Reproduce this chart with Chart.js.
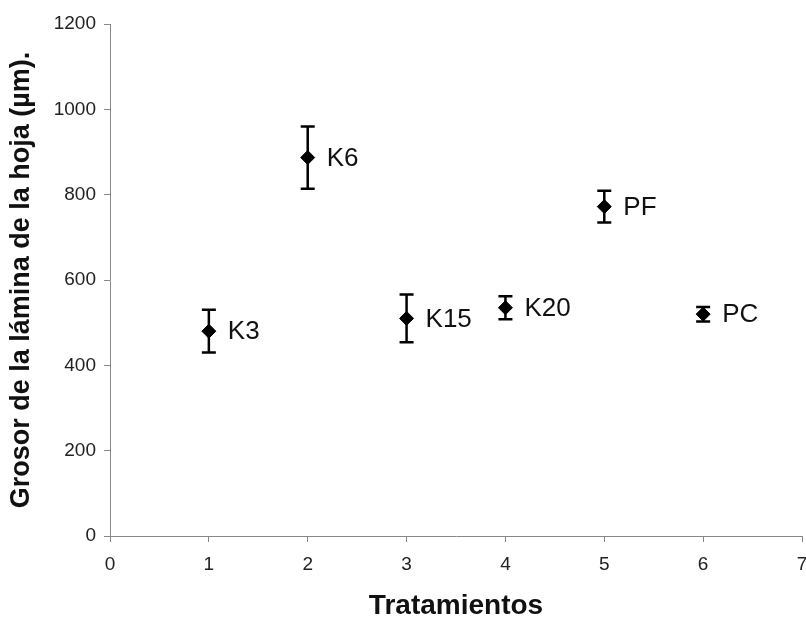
<!DOCTYPE html>
<html>
<head>
<meta charset="utf-8">
<script src="https://cdn.jsdelivr.net/npm/chart.js@4.4.1/dist/chart.umd.min.js"></script>
<style>
  html, body { margin: 0; padding: 0; background: #fff; overflow: hidden; }
  #wrap { width: 806px; height: 620px; overflow: hidden; }
</style>
</head>
<body>
<div id="wrap"><canvas id="grosorChart" width="810" height="620"></canvas></div>
<script>
// tratamientos y grosor medio de la lámina (µm) con su error
const tratamientos = ['K3', 'K6', 'K15', 'K20', 'PF', 'PC'];
const posX = [1, 2, 3, 4, 5, 6];
const grosor = [480, 887, 510, 535, 772, 520];
const error = [50, 73, 56, 27, 37, 17];

const xTicks = [0, 1, 2, 3, 4, 5, 6, 7];
const yTicks = [0, 200, 400, 600, 800, 1000, 1200];

const FONT = "'Liberation Sans', Arial, sans-serif";

const puntos = posX.map((x, i) => ({ x: x, y: grosor[i], yMin: grosor[i] - error[i], yMax: grosor[i] + error[i] }));

// barras de error y etiquetas de cada tratamiento
const barrasError = {
  id: 'barrasError',
  beforeDatasetsDraw(chart) {
    const ctx = chart.ctx;
    const xs = chart.scales.x, ys = chart.scales.y;
    ctx.save();
    ctx.strokeStyle = '#000';
    ctx.lineWidth = 2.5;
    puntos.forEach(p => {
      const px = xs.getPixelForValue(p.x);
      const top = ys.getPixelForValue(p.yMax);
      const bot = ys.getPixelForValue(p.yMin);
      ctx.beginPath();
      ctx.moveTo(px, top); ctx.lineTo(px, bot);
      ctx.moveTo(px - 7, top); ctx.lineTo(px + 7, top);
      ctx.moveTo(px - 7, bot); ctx.lineTo(px + 7, bot);
      ctx.stroke();
    });
    ctx.restore();
  },
  afterDatasetsDraw(chart) {
    const ctx = chart.ctx;
    const meta = chart.getDatasetMeta(0);
    ctx.save();
    ctx.fillStyle = '#111';
    ctx.font = '26px ' + FONT;
    ctx.textBaseline = 'middle';
    ctx.textAlign = 'left';
    meta.data.forEach((pt, i) => {
      ctx.fillText(tratamientos[i], pt.x + 19, pt.y + 1);
    });
    ctx.restore();
  }
};

const sinPadding = s => { s.paddingLeft = 0; s.paddingRight = 0; s.paddingTop = 0; s.paddingBottom = 0; };

new Chart(document.getElementById('grosorChart'), {
  type: 'scatter',
  data: {
    datasets: [{
      data: puntos,
      pointStyle: 'rectRot',
      pointRadius: 7,
      pointHoverRadius: 7,
      backgroundColor: '#000',
      borderColor: '#000',
      borderWidth: 1
    }]
  },
  options: {
    responsive: false,
    animation: false,
    plugins: { legend: { display: false }, tooltip: { enabled: false } },
    layout: { padding: { top: 24, right: 1, left: 0, bottom: 0 } },
    scales: {
      x: {
        type: 'linear',
        min: 0, max: 7,
        afterBuildTicks: s => { s.ticks = xTicks.map(v => ({ value: v })); },
        afterFit: s => { s.height = 84; sinPadding(s); },
        grid: { drawOnChartArea: false, color: '#888', tickLength: 6 },
        border: { color: '#888', width: 1 },
        ticks: { color: '#222', font: { family: FONT, size: 19 }, padding: 11, callback: v => String(v) },
        title: {
          display: true, text: 'Tratamientos', color: '#111',
          font: { family: FONT, size: 28, weight: 'bold', lineHeight: 1 },
          padding: { top: 0, bottom: 0 }
        }
      },
      y: {
        min: 0, max: 1200,
        afterBuildTicks: s => { s.ticks = yTicks.map(v => ({ value: v })); },
        afterFit: s => { s.width = 110; sinPadding(s); },
        grid: { drawOnChartArea: false, color: '#888', tickLength: 6 },
        border: { color: '#888', width: 1 },
        ticks: { color: '#222', font: { family: FONT, size: 19 }, padding: 8, callback: v => String(v) },
        title: {
          display: true, text: 'Grosor de la lámina de la hoja (µm).', color: '#111',
          font: { family: FONT, size: 27, weight: 'bold', lineHeight: 1 },
          padding: { top: 8, bottom: 0 }
        }
      }
    }
  },
  plugins: [barrasError]
});
</script>
</body>
</html>
